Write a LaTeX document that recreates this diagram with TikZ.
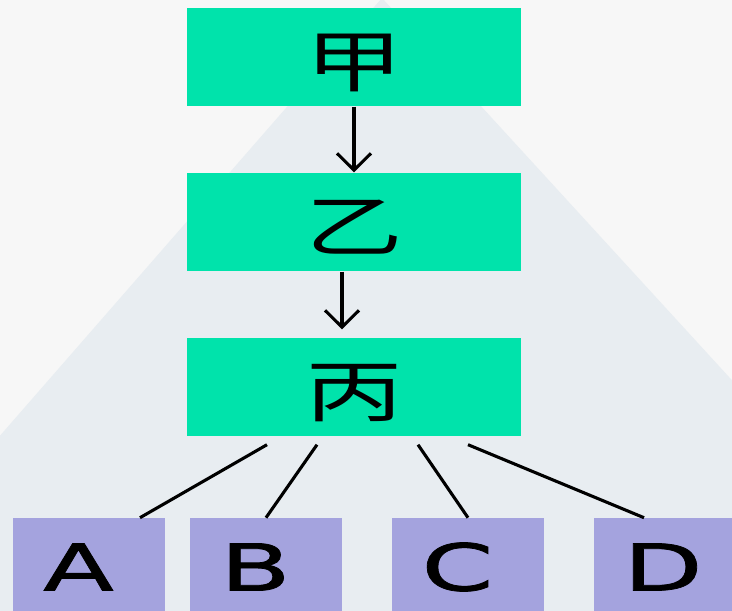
\documentclass[tikz,border=0pt]{standalone}
\usepackage{fontspec}
\newfontfamily\cjk[FakeStretch=1.45]{Noto Sans CJK SC}
\newfontfamily\leafsans[FakeStretch=1.6,FakeBold=1.2]{DejaVu Sans}
\usetikzlibrary{arrows.meta}
\usetikzlibrary{calc}
\definecolor{bggray}{HTML}{F7F7F7}
\definecolor{fangray}{HTML}{E8EDF1}
\definecolor{boxgreen}{HTML}{00E3AB}
\definecolor{boxpurple}{HTML}{A4A3DE}
\tikzset{
	% style for the three stacked boxes
	stack box/.style={
		fill=boxgreen,inner sep=0pt,
		minimum width=8.35cm,minimum height=2.47cm,
		text height=48pt,text depth=6pt,
		font=\cjk\fontsize{48}{48}\selectfont
	},
	% style for the four boxes in the bottom row
	leaf box/.style={
		fill=boxpurple,inner sep=0pt,
		minimum width=3.8cm,minimum height=2.45cm,
		font=\leafsans\fontsize{46}{46}\selectfont
	},
	% plain connector and downward arrow
	link/.style={line width=2.2pt},
	down arrow/.style={line width=2.2pt,-{Straight Barb[length=4.2mm,width=8.5mm]}},
}

\begin{document}
\begin{tikzpicture}[x=0.025cm,y=-0.025cm]
		\useasboundingbox (0,0) rectangle (732,611);
		\clip (0,0) rectangle (732,611);
		\fill[bggray] (-5,-5) rectangle (740,620);
		\fill[fangray] (382,-2) -- (-2,438) -- (-2,620) -- (740,620) -- (740,389) -- cycle;
		\node[stack box] (jia) at (354,57) {甲};
		\node[stack box] (yi) at (354,222) {乙};
		\node[stack box] (bing) at (354,387) {丙};
		\node[leaf box] (A) at (89,567) {A\kern15pt};
		\node[leaf box] (B) at (266,567) {B\kern15pt};
		\node[leaf box] (C) at (468,567) {C\kern15pt};
		\node[leaf box] (D) at (670,567) {D\kern10pt};
		\coordinate (s1) at ($(bing.south)+(-87,8)$);
		\coordinate (s2) at ($(bing.south)+(-37,8)$);
		\coordinate (s3) at ($(bing.south)+(64,8)$);
		\coordinate (s4) at ($(bing.south)+(114,8)$);
		\draw[down arrow] (jia) -- (yi);
		\draw[down arrow] ($(yi.south)+(-12,0)$) -- ($(bing.north)+(-12,-8)$);
		\draw[link] (s1) -- ($(A.north)+(51,0)$);
		\draw[link] (s2) -- (B.north);
		\draw[link] (s3) -- (C.north);
		\draw[link] (s4) -- ($(D.north)+(-26,0)$);
		\end{tikzpicture}
\end{document}
